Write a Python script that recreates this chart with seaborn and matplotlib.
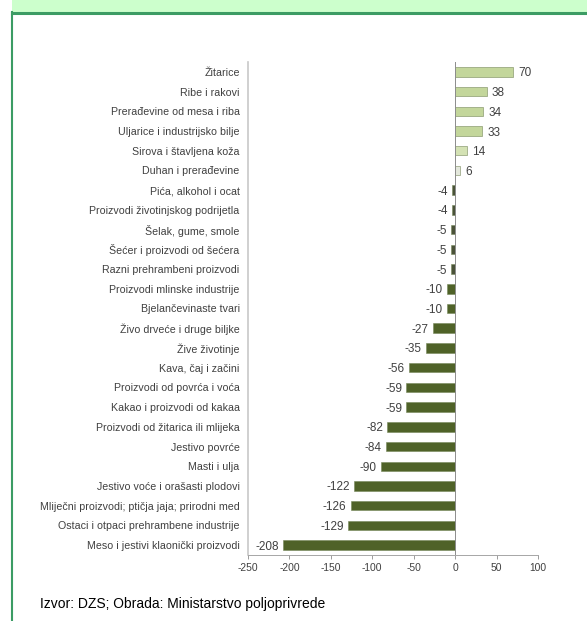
import matplotlib
matplotlib.use("Agg")
import matplotlib.pyplot as plt
import seaborn as sns
import pandas as pd
from matplotlib.patches import Rectangle
from matplotlib.lines import Line2D

categories = [
    "Žitarice",
    "Ribe i rakovi",
    "Prerađevine od mesa i riba",
    "Uljarice i industrijsko bilje",
    "Sirova i štavljena koža",
    "Duhan i prerađevine",
    "Pića, alkohol i ocat",
    "Proizvodi životinjskog podrijetla",
    "Šelak, gume, smole",
    "Šećer i proizvodi od šećera",
    "Razni prehrambeni proizvodi",
    "Proizvodi mlinske industrije",
    "Bjelančevinaste tvari",
    "Živo drveće i druge biljke",
    "Žive životinje",
    "Kava, čaj i začini",
    "Proizvodi od povrća i voća",
    "Kakao i proizvodi od kakaa",
    "Proizvodi od žitarica ili mlijeka",
    "Jestivo povrće",
    "Masti i ulja",
    "Jestivo voće i orašasti plodovi",
    "Mliječni proizvodi; ptičja jaja; prirodni med",
    "Ostaci i otpaci prehrambene industrije",
    "Meso i jestivi klaonički proizvodi",
]
values = [70, 38, 34, 33, 14, 6, -4, -4, -5, -5, -5, -10, -10, -27, -35,
          -56, -59, -59, -82, -84, -90, -122, -126, -129, -208]
x_ticks = [-250, -200, -150, -100, -50, 0, 50, 100]
source_text = "Izvor: DZS; Obrada: Ministarstvo poljoprivrede"

FONT = "Liberation Sans"


def bar_color(v):
    if v >= 30:
        return "#c3d69b"
    if v >= 10:
        return "#d4e2b4"
    if v > 0:
        return "#e4e8dc"
    if v > -6:
        return "#4a5238"
    return "#4f6228"


df = pd.DataFrame({"category": categories, "value": values})
palette = {c: bar_color(v) for c, v in zip(categories, values)}

fig = plt.figure(figsize=(5.87, 6.21), dpi=100)
fig.patch.set_facecolor("white")

# header band and frame lines
fig.patches.append(Rectangle((12 / 587, 1 - 12 / 621), 1, 12 / 621,
                             transform=fig.transFigure, facecolor="#ccffcc",
                             edgecolor="none", zorder=0))
fig.lines.append(Line2D([12 / 587, 1], [1 - 13 / 621, 1 - 13 / 621],
                        transform=fig.transFigure, color="#3c9c64", lw=2.2))
fig.lines.append(Line2D([12 / 587, 12 / 587], [0, 1 - 12 / 621],
                        transform=fig.transFigure, color="#3c9c64", lw=1.5))

ax = fig.add_axes([248 / 587, 1 - 555 / 621, (538 - 248) / 587, (555 - 62) / 621])
sns.barplot(data=df, x="value", y="category", hue="category", palette=palette,
            legend=False, width=0.48, orient="h", ax=ax, edgecolor="#77885a",
            linewidth=0.4, saturation=1)

ax.set_xlim(-250, 100)
ax.set_xticks(x_ticks)
ax.set_xticklabels([str(t) for t in x_ticks])
ax.set_xlabel("")
ax.set_ylabel("")
ax.tick_params(axis="x", labelsize=7.4, colors="#8c8c8c", length=3, width=0.6,
               pad=3)
ax.tick_params(axis="y", labelsize=7.7, colors="#404040", length=0, pad=6)
for lbl in ax.get_xticklabels():
    lbl.set_color("#404040")
    lbl.set_family(FONT)
for lbl in ax.get_yticklabels():
    lbl.set_family(FONT)

for s in ["top", "right"]:
    ax.spines[s].set_visible(False)
ax.spines["left"].set_color("#c8c8c8")
ax.spines["left"].set_linewidth(1.2)
ax.spines["bottom"].set_color("#a6a6a6")
ax.spines["bottom"].set_linewidth(0.7)

ax.axvline(0, color="#8c8c8c", lw=0.7, zorder=3)

# value labels
for i, v in enumerate(values):
    if v >= 0:
        ax.text(v + 6, i, str(v), va="center_baseline", ha="left", fontsize=8.5,
                color="#404040", family=FONT)
    else:
        ax.text(v - 5, i, str(v), va="center_baseline", ha="right", fontsize=8.5,
                color="#404040", family=FONT)

fig.text(40 / 587, 1 - 604 / 621, source_text, fontsize=10,
         family=FONT, color="#000000", va="center", ha="left")

fig.savefig("out.png", dpi=100)
